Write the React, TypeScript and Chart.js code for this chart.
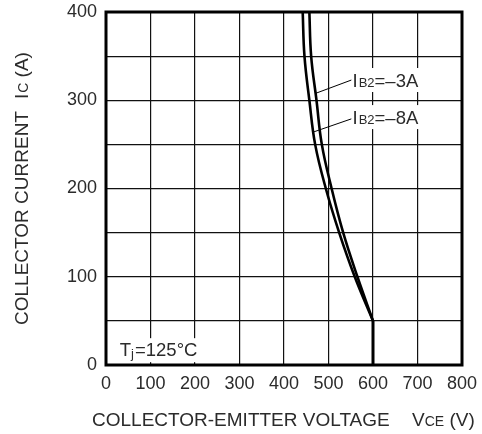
import React, { useEffect, useRef } from "react";
import { Chart, registerables } from "chart.js";

Chart.register(...registerables);

// Collector current levels (A), shared by both curves
const icLevels = [400, 350, 300, 250, 200, 150, 100, 50];
// Collector-emitter voltage (V) of each curve at those levels
const vceIb3 = [457, 461, 473, 485, 507, 533, 565, 600];
const vceIb8 = [442, 446, 457, 470, 494, 524, 559, 600];
// common vertical tail
const tailVce = [600, 600];
const tailIc = [50, 0];

// annotation leader lines [from curve, to label]
const leader3Vce = [472, 552];
const leader3Ic = [308, 323];
const leader8Vce = [466, 552];
const leader8Ic = [264, 279];

// label anchors (data units)
const label3 = { vce: 554, ic: 315, sub: "B2", tail: "=\u20133A" };
const label8 = { vce: 554, ic: 273, sub: "B2", tail: "=\u20138A" };
const tjLabel = { vce: 31, ic: 10 };

const xTicks = [0, 100, 200, 300, 400, 500, 600, 700, 800];
const yTicks = [0, 100, 200, 300, 400];

const FONT = "'Liberation Sans', Arial, sans-serif";
const TEXT = "#2b2b2b";

const zip = (xs: number[], ys: number[]) => xs.map((x, i) => ({ x, y: ys[i] }));

const textPlugin = {
  id: "texts",
  beforeDatasetsDraw(chart: any) {
    const { ctx, chartArea } = chart;
    ctx.save();
    ctx.lineWidth = 3;
    ctx.strokeStyle = "#000";
    ctx.strokeRect(chartArea.left, chartArea.top, chartArea.right - chartArea.left, chartArea.bottom - chartArea.top);
    ctx.restore();
  },
  afterDatasetsDraw(chart: any) {
    const { ctx, scales } = chart;
    const xs = scales.x, ys = scales.y;
    ctx.save();
    ctx.fillStyle = TEXT;
    ctx.textBaseline = "alphabetic";
    ctx.textAlign = "left";

    const big = `18.5px ${FONT}`;
    const small = `13px ${FONT}`;

    const drawIb = (lab: any) => {
      const x = xs.getPixelForValue(lab.vce);
      const y = ys.getPixelForValue(lab.ic);
      ctx.font = big;
      const wI = ctx.measureText("I").width;
      const wT = ctx.measureText(lab.tail).width;
      ctx.font = small;
      const wS = ctx.measureText(lab.sub).width;
      const total = wI + wS + wT;
      ctx.fillStyle = "#fff";
      ctx.fillRect(x - 1, y - 19, total + 3, 24);
      ctx.fillStyle = TEXT;
      ctx.font = big;
      ctx.fillText("I", x, y);
      ctx.font = small;
      ctx.fillText(lab.sub, x + wI + 1, y);
      ctx.font = big;
      ctx.fillText(lab.tail, x + wI + wS + 1, y);
    };
    drawIb(label3);
    drawIb(label8);

    // Tj label
    {
      const x = xs.getPixelForValue(tjLabel.vce);
      const y = ys.getPixelForValue(tjLabel.ic);
      ctx.font = big;
      const wT = ctx.measureText("T").width;
      const wRest = ctx.measureText("=125°C").width;
      ctx.font = small;
      const wj = ctx.measureText("j").width;
      ctx.fillStyle = "#fff";
      ctx.fillRect(x - 2, y - 18, wT + wj + wRest + 5, 24);
      ctx.fillStyle = TEXT;
      ctx.font = big;
      ctx.fillText("T", x, y);
      ctx.font = small;
      ctx.fillText("j", x + wT, y + 2);
      ctx.font = big;
      ctx.fillText("=125°C", x + wT + wj + 1, y);
    }

    // X axis title
    {
      const t = `19px ${FONT}`;
      const s = `14px ${FONT}`;
      const y = 426;
      let x = 92;
      ctx.font = t;
      ctx.fillText("COLLECTOR-EMITTER VOLTAGE", x, y);
      x = 412;
      ctx.fillText("V", x, y);
      x += ctx.measureText("V").width;
      ctx.font = s;
      ctx.fillText("CE", x, y);
      x += ctx.measureText("CE").width;
      ctx.font = t;
      ctx.fillText(" (V)", x, y);
    }

    // Y axis title (rotated)
    {
      const t = `19px ${FONT}`;
      const s = `14px ${FONT}`;
      ctx.save();
      ctx.translate(28, 325);
      ctx.rotate(-Math.PI / 2);
      let x = 0;
      ctx.font = t;
      ctx.fillText("COLLECTOR CURRENT", x, 0);
      x += ctx.measureText("COLLECTOR CURRENT").width + 12;
      ctx.fillText("I", x, 0);
      x += ctx.measureText("I").width + 1;
      ctx.font = s;
      ctx.fillText("C", x, 0);
      x += ctx.measureText("C").width;
      ctx.font = t;
      ctx.fillText(" (A)", x, 0);
      ctx.restore();
    }
    ctx.restore();
  },
};

export default function App() {
  const ref = useRef<HTMLCanvasElement | null>(null);
  useEffect(() => {
    document.body.style.margin = "0";
    const canvas = ref.current!;
    const curveStyle = {
      borderColor: "#000",
      borderWidth: 2.6,
      pointRadius: 0,
      tension: 0.4,
      fill: false,
    };
    const chart = new Chart(canvas, {
      type: "line",
      data: {
        datasets: [
          { ...curveStyle, data: zip(vceIb3, icLevels) },
          { ...curveStyle, data: zip(vceIb8, icLevels) },
          { ...curveStyle, tension: 0, borderWidth: 3, data: zip(tailVce, tailIc) },
          { borderColor: "#000", borderWidth: 1, pointRadius: 0, tension: 0, data: zip(leader3Vce, leader3Ic) },
          { borderColor: "#000", borderWidth: 1, pointRadius: 0, tension: 0, data: zip(leader8Vce, leader8Ic) },
        ] as any,
      },
      options: {
        animation: false,
        responsive: false,
        parsing: false as any,
        layout: { padding: { top: 12, right: 20, left: 0, bottom: 0 } },
        plugins: { legend: { display: false }, tooltip: { enabled: false } },
        scales: {
          x: {
            type: "linear",
            min: 0,
            max: 800,
            afterBuildTicks: (s: any) => {
              s.ticks = xTicks.map((v) => ({ value: v }));
            },
            ticks: { font: { size: 18, family: FONT }, color: TEXT, padding: 8, maxRotation: 0, autoSkip: false },
            grid: { color: "#111", lineWidth: 1.2, drawTicks: false },
            border: { display: false },
            afterFit: (s: any) => {
              s.height = 69;
              s.paddingLeft = 0;
              s.paddingRight = 0;
            },
          },
          y: {
            type: "linear",
            min: 0,
            max: 400,
            ticks: {
              stepSize: 50,
              font: { size: 18, family: FONT },
              color: TEXT,
              padding: 9,
              autoSkip: false,
              callback: (v: any) => (yTicks.includes(Number(v)) ? String(v) : ""),
            },
            grid: { color: "#111", lineWidth: 1.2, drawTicks: false },
            border: { display: false },
            afterFit: (s: any) => {
              s.width = 106;
              s.paddingTop = 0;
              s.paddingBottom = 0;
            },
          },
        },
      },
      plugins: [textPlugin],
    });
    return () => chart.destroy();
  }, []);
  return (
    <div style={{ width: 482, height: 434, position: "relative" }}>
      <canvas ref={ref} width={482} height={434} style={{ display: "block" }} />
    </div>
  );
}
